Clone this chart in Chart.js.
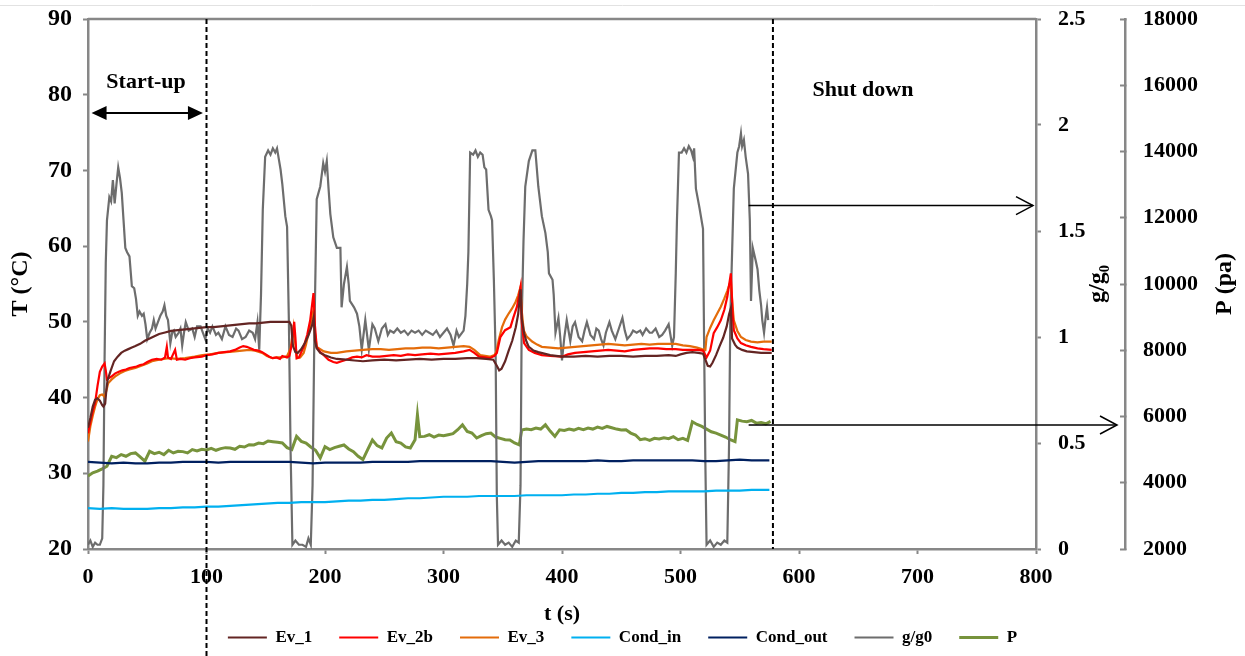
<!DOCTYPE html>
<html>
<head>
<meta charset="utf-8">
<script src="https://cdn.jsdelivr.net/npm/chart.js@4.4.0/dist/chart.umd.min.js"></script>
<style>
  html, body { margin: 0; padding: 0; background: #fff; }
  canvas { display: block; }
</style>
</head>
<body>
<canvas id="myChart" width="1245" height="656"></canvas>
<script>
// 시간 (s) 과 값 - 그림에서 읽은 값
const ev1Time = [0,2,4,6,8,10,12,13,14.5,15.5,16.5,19,22,25,28,31,34,37,40,44,48,52,56,60,65,70,76,82,88,94,100,106,112,118,124,130,136,142,148,154,160,166,170,171.5,173,175,177,180,183,186,189,190.5,191.5,193,196,200,205,210,218,225,232,240,250,260,270,280,290,300,310,320,328,336,342,345,347,349,352,355,358,361,363,365,366,368,370,372,376,380,385,390,395,400,410,420,430,440,450,460,470,480,490,496,500,505,510,515,519,521,523,525,527,530,533,536,539,541,542.5,543.5,546,548,552,556,562,568,574,577];
const ev1Temp = [36.0,37.3,38.8,39.7,39.9,39.6,39.0,38.8,39.2,41.0,42.3,43.5,44.8,45.4,45.9,46.2,46.4,46.6,46.8,47.1,47.5,47.8,48.1,48.4,48.6,48.8,48.9,49.0,49.1,49.2,49.3,49.3,49.4,49.5,49.6,49.7,49.8,49.8,49.9,50.0,50.0,50.0,50.0,49.5,46.8,46.0,45.9,46.4,47.2,48.2,49.5,50.6,47.5,46.5,45.9,45.6,45.3,45.1,45.0,44.9,44.8,44.9,45.0,44.9,45.0,45.1,45.0,45.1,45.1,45.2,45.2,45.1,45.0,44.2,43.6,43.8,44.8,46.2,47.5,49.3,51.0,54.3,50.5,48.5,47.4,46.7,46.2,46.0,45.8,45.6,45.5,45.4,45.4,45.5,45.4,45.5,45.5,45.4,45.5,45.5,45.6,45.5,45.7,45.9,46.0,45.9,45.8,45.0,44.2,44.1,44.6,45.6,46.8,47.9,49.4,51.0,51.8,47.8,47.0,46.6,46.3,46.1,46.0,45.9,45.9,45.9];

const ev2bTime = [0,2,4,6,8,10,12,14,15,16,18,20,23,26,29,32,35,38,41,44,47,50,54,58,62,65,66.5,67.5,70,73.5,75,78,82,86,90,96,100,105,110,115,120,124,128,131,134,137,140,144,147,150,153,156,159,162,164,166,168,170,172,174,175,176,178,180,182,185,187.5,190.3,191.5,193,196,199,203,207,210,214,218,223,227,231,235,240,246,252,258,264,270,276,282,289,296,303,310,317,322,326,330,335,339,343,345,348,352,356.5,359,362,365,366,368,372,377,383,390,400,405,411,418,425,432,439,446,453,460,467,474,481,488,496,502,508,514,519,522,525,528,531,534,537,539.5,542.5,544,545,548,551,555,559.5,565,570,577];
const ev2bTemp = [35.3,36.8,38.2,39.3,41.5,43.4,44.1,44.5,43.6,42.4,42.6,42.8,43.2,43.4,43.6,43.7,43.9,44.0,44.1,44.3,44.4,44.7,45.0,45.1,45.0,45.3,46.7,45.3,45.1,46.3,45.0,45.1,45.0,45.2,45.3,45.4,45.6,45.7,45.9,46.0,46.1,46.3,46.6,46.8,46.7,46.5,46.3,46.2,46.0,45.7,45.4,45.2,45.3,45.1,45.5,45.4,45.3,45.5,47.0,50.0,48.0,45.2,45.3,46.0,46.7,48.3,50.2,53.8,49.5,46.7,46.0,45.6,45.0,44.7,44.6,44.8,45.0,45.3,45.4,45.3,45.6,45.4,45.4,45.5,45.6,45.5,45.7,45.6,45.7,45.8,45.7,45.8,45.9,46.1,46.3,45.9,45.4,45.3,45.2,45.5,45.9,48.0,48.9,49.3,50.6,52.0,54.6,50.0,47.2,46.3,45.9,45.6,45.5,45.4,45.7,45.9,46.0,46.1,46.2,46.3,46.2,46.1,46.3,46.4,46.5,46.5,46.4,46.4,46.3,46.3,46.3,46.2,45.3,46.2,48.5,49.3,50.2,51.6,53.3,56.4,51.0,48.9,47.8,47.2,46.9,46.7,46.5,46.4,46.3];

const ev3Time = [0,2,4,6,8,10,12,14,15.5,17,20,23,27,31,35,40,45,50,54,60,68,75,82,90,96.5,103,110,117,124,130,136,141,147,151,155.6,160,164,168,171,173.5,175,176.5,179,182,184,186,188,190.3,191.5,193,199,205,210,218,225,232,240,247,254,261,268,275,282,289,296,303,310,317,322,326,331,335,339,343,344.5,346.6,349.4,352,355,358,360.7,363,365,366,367.7,370,374.8,379,383,390,397,404,411,418,425,432,439,446,453,460,467,474,481,488,496,502,508,514,518,521,522,525,528,531,534,537,539.5,542.5,544,545,548,551,555,559.5,565,570,577];
const ev3Temp = [34.2,36.2,37.6,38.8,39.8,40.3,40.4,40.1,40.9,41.9,42.4,42.8,43.2,43.5,43.7,43.9,44.2,44.5,44.8,45.0,45.2,45.1,45.2,45.4,45.6,45.7,45.9,46.0,46.1,46.2,46.3,46.2,45.9,45.5,45.2,45.3,45.3,45.5,46.5,49.3,47.0,45.2,45.3,45.9,47.0,48.5,49.8,51.6,48.5,46.7,46.1,45.9,45.9,46.1,46.2,46.3,46.4,46.4,46.3,46.4,46.5,46.5,46.6,46.6,46.5,46.6,46.7,46.8,46.7,46.3,45.6,45.5,45.4,45.6,46.0,47.6,49.3,50.3,51.1,51.8,52.6,53.5,54.6,51.5,48.9,48.1,47.4,47.0,46.7,46.6,46.5,46.6,46.7,46.8,46.9,47.0,47.1,47.0,46.9,47.0,47.1,47.0,47.1,47.1,47.1,46.9,46.8,46.6,46.4,46.3,48.0,49.2,50.2,51.1,52.0,53.1,54.1,55.5,52.0,50.2,48.8,48.0,47.6,47.4,47.3,47.4,47.4];

const condTime = [0,10,20,30,40,50,60,70,80,90,100,110,120,130,140,150,160,170,180,190,200,210,220,230,240,250,260,270,280,290,300,310,320,330,340,350,360,370,380,390,400,410,420,430,440,450,460,470,480,490,500,510,520,530,540,550,560,570,575];
const condIn = [25.4,25.3,25.4,25.3,25.3,25.3,25.4,25.4,25.5,25.5,25.6,25.6,25.7,25.8,25.9,26.0,26.1,26.1,26.2,26.2,26.2,26.3,26.4,26.4,26.5,26.5,26.6,26.7,26.7,26.8,26.9,26.9,26.9,27.0,27.0,27.0,27.0,27.1,27.1,27.1,27.1,27.2,27.2,27.3,27.3,27.4,27.4,27.5,27.5,27.6,27.6,27.6,27.6,27.7,27.7,27.7,27.8,27.8,27.8];
const condOut = [31.5,31.4,31.3,31.4,31.3,31.3,31.4,31.4,31.5,31.5,31.5,31.4,31.5,31.5,31.5,31.5,31.5,31.5,31.4,31.3,31.4,31.4,31.4,31.4,31.5,31.5,31.5,31.5,31.6,31.6,31.6,31.6,31.6,31.6,31.6,31.5,31.4,31.5,31.6,31.6,31.6,31.6,31.6,31.7,31.6,31.6,31.7,31.7,31.7,31.7,31.7,31.7,31.6,31.6,31.7,31.8,31.7,31.7,31.7];

const gTime = [0,2,4,6,8,10,12,13,14,15,16,18,19.5,21,22.5,24,25.5,27,28.5,30,31.5,33,35,37,39,40.5,42,43.5,45.5,47,48.5,50,52,54,55.5,57,59,61,63,64.5,66,67.5,69.5,71,72.5,74,76.5,78,79.5,81,82.5,85,88,90,92,95,97,99,101,103,105,108,110,113,116,119,122,125,127,130,133,136,139,141,143,144.5,146,147.5,149.5,152,154,156,158,159.5,161,162.5,164,166.5,168,169.5,171,172.5,175,178,181,184,186,188,189.5,191,193,196,198.5,200,201.5,203,204.5,207,210,213,214,216,218.5,220,221,224.5,227,229,231,234,237,240,242,245,248,251,253,255,258,261,264,267,270,273,276,279,282,285,288,291,294,297,300,303,306,308.5,311,313,317,318.5,320,321,322.5,325,327,329,331,333,334.5,336,338,340,341,342.5,344,345,346,349,352,355,358,361,363.5,365,366,367.5,369,372,375,377.5,380,383,386,388,389,392,393,394.5,397,398.5,400,402,404,407,409,411,414,417,419,421,424,427,429,431,433,435,437,440,442,445,448,451,453,455,458,460,463,466,468,471,474,476,479,482,484.5,487,490,493,494.5,496,497,498.7,501,503,505,507,509,510.5,511.5,513,516,519,520,521,522,525,528,531,534,537,539.5,541,542,545,548,549.5,551,552,553.5,555,557,558.5,559.5,561,563.5,565,566.5,568,569,570.5,572,573,574];
const gRatio = [0.02,0.04,0.01,0.03,0.02,0.02,0.05,0.3,0.9,1.35,1.55,1.66,1.64,1.74,1.63,1.72,1.80,1.75,1.68,1.55,1.42,1.40,1.38,1.24,1.23,1.18,1.10,1.12,1.10,1.11,1.06,0.99,1.02,1.04,1.08,1.04,1.07,1.10,1.12,1.15,1.10,1.08,0.97,1.02,1.03,1.00,1.02,1.04,0.96,1.02,1.07,1.03,1.04,1.00,1.05,1.05,1.02,0.99,1.04,1.02,1.05,1.01,1.02,0.99,1.05,1.01,1.00,1.04,1.03,0.99,1.00,1.03,1.02,0.99,1.07,0.94,1.20,1.60,1.85,1.88,1.86,1.89,1.87,1.89,1.84,1.79,1.72,1.57,1.52,1.08,0.45,0.02,0.04,0.02,0.02,0.01,0.05,0.02,0.3,1.0,1.65,1.71,1.82,1.78,1.83,1.70,1.58,1.47,1.42,1.42,1.14,1.25,1.33,1.25,1.17,1.14,1.11,1.05,0.94,1.08,0.94,1.06,1.04,0.98,1.04,1.06,1.01,1.03,1.02,1.04,1.02,1.03,1.01,1.03,1.02,1.03,1.01,1.03,1.02,1.01,1.03,1.00,1.02,1.04,1.01,0.96,1.03,1.00,1.03,1.10,1.25,1.40,1.87,1.86,1.88,1.85,1.87,1.86,1.80,1.79,1.60,1.57,1.55,1.27,0.92,0.25,0.02,0.04,0.02,0.03,0.01,0.04,0.03,0.3,1.08,1.45,1.71,1.83,1.88,1.88,1.71,1.57,1.49,1.40,1.30,1.27,1.20,1.02,1.09,1.00,0.89,1.00,1.08,0.98,1.05,1.07,1.00,0.98,1.03,1.07,1.01,0.99,1.04,1.03,0.99,0.96,1.02,1.07,1.03,0.99,1.04,1.09,1.03,0.99,1.01,1.03,1.02,1.03,1.01,1.04,1.02,1.02,1.04,1.00,1.01,1.03,1.06,0.96,1.00,1.30,1.55,1.87,1.87,1.89,1.87,1.90,1.88,1.85,1.89,1.70,1.61,1.51,0.93,0.40,0.02,0.04,0.01,0.03,0.02,0.04,0.03,0.5,1.08,1.70,1.87,1.90,1.96,1.90,1.93,1.85,1.77,1.55,1.17,1.42,1.36,1.32,1.22,1.15,1.08,1.02,1.10,1.14,1.08];

const pTime = [0,4,8,12,16,20,24,28,32,36,40,44,48,52,56,60,64,68,72,76,80,84,88,92,96,100,104,108,112,116,120,124,128,132,136,140,144,148,152,156,160,164,168,172,176,180,184,188,192,196,200,204,208,212,216,220,224,228,232,236,240,244,248,252,256,260,264,268,272,276,278,280,284,288,292,296,300,304,308,312,316,320,324,328,332,336,340,344,348,352,356,360,364,366,370,374,378,382,386,390,394,398,402,406,410,414,418,422,426,430,434,438,442,446,450,454,458,462,466,470,474,478,482,486,490,494,498,502,506,510,514,518,522,526,530,534,538,542,546,548,552,556,560,564,568,572,576];
const pVal = [4200,4300,4350,4420,4500,4800,4760,4850,4800,4880,4900,4780,4650,4950,4880,4920,4850,4980,4900,4950,4940,4900,5000,4960,5010,4990,5040,4980,5030,5060,5050,5010,5100,5080,5150,5140,5200,5180,5260,5240,5220,5200,5060,5000,5400,5250,5200,5080,4980,4750,5090,5000,5060,5100,5140,5020,4940,4800,4700,5000,5290,5120,5050,5350,5500,5240,5200,5080,5050,5300,6050,5390,5400,5450,5380,5440,5420,5450,5480,5600,5750,5550,5500,5350,5420,5480,5500,5380,5340,5300,5290,5200,5140,5590,5620,5600,5650,5620,5750,5560,5400,5600,5580,5620,5590,5640,5600,5650,5620,5680,5640,5700,5660,5620,5590,5600,5500,5440,5300,5330,5280,5340,5320,5360,5330,5390,5300,5340,5280,5840,5760,5700,5620,5540,5500,5440,5380,5300,5240,5900,5860,5840,5880,5800,5820,5780,5850];

// 표시선 위치
const startupEnd = 100;
const shutdownAt = 578;

const serif = '"Liberation Serif", "Times New Roman", serif';
const axisGray = '#878787';

function pts(ts, vs) {
	return ts.map((t, i) => ({ x: t, y: vs[i] }));
}

function line(ctx, x1, y1, x2, y2) {
	ctx.beginPath();
	ctx.moveTo(x1, y1);
	ctx.lineTo(x2, y2);
	ctx.stroke();
}

// 속이 찬 화살촉
function solidHead(ctx, x, y, dir) {
	ctx.beginPath();
	ctx.moveTo(x, y);
	ctx.lineTo(x - dir * 15, y - 7);
	ctx.lineTo(x - dir * 15, y + 7);
	ctx.closePath();
	ctx.fill();
}

// 열린 화살촉 (V 모양)
function openHead(ctx, x, y) {
	ctx.beginPath();
	ctx.moveTo(x - 17, y - 9);
	ctx.lineTo(x, y);
	ctx.lineTo(x - 17, y + 9);
	ctx.stroke();
}

const annotations = {
	id: 'annotations',
	afterDraw(chart) {
		const { ctx, chartArea: ca } = chart;
		const { x, y, g, p } = chart.scales;
		ctx.save();

		// 스크린샷 위쪽의 옅은 선
		ctx.strokeStyle = '#e2e2e2';
		ctx.lineWidth = 1;
		line(ctx, 0, 5.5, chart.width, 5.5);

		// 그래프 위쪽 테두리
		ctx.strokeStyle = axisGray;
		ctx.lineWidth = 2.5;
		line(ctx, ca.left, ca.top, ca.right, ca.top);

		// 점선
		ctx.strokeStyle = '#000';
		ctx.lineWidth = 2;
		ctx.setLineDash([5, 3]);
		const xs = x.getPixelForValue(startupEnd);
		line(ctx, xs, ca.top, xs, chart.height);
		const xd = x.getPixelForValue(shutdownAt);
		line(ctx, xd, ca.top, xd, ca.bottom);
		ctx.setLineDash([]);

		// Start-up 양방향 화살표
		ctx.fillStyle = '#000';
		ctx.lineWidth = 2;
		const ay = y.getPixelForValue(77.6);
		const ax1 = x.getPixelForValue(3);
		const ax2 = x.getPixelForValue(97);
		line(ctx, ax1 + 10, ay, ax2 - 10, ay);
		solidHead(ctx, ax1, ay, -1);
		solidHead(ctx, ax2, ay, 1);

		ctx.font = 'bold 22px ' + serif;
		ctx.textAlign = 'center';
		ctx.textBaseline = 'middle';
		ctx.fillText('Start-up', x.getPixelForValue(49), y.getPixelForValue(81.6));
		ctx.fillText('Shut down', x.getPixelForValue(654), y.getPixelForValue(80.6));

		// 오른쪽 축을 가리키는 화살표
		ctx.lineWidth = 1.5;
		const sx = x.getPixelForValue(557.5);
		const gy = g.getPixelForValue(1.62);
		line(ctx, sx, gy, g.left - 3, gy);
		openHead(ctx, g.left - 3, gy);
		const py = p.getPixelForValue(5744);
		line(ctx, sx, py, p.left - 8, py);
		openHead(ctx, p.left - 8, py);

		// 오른쪽 축 제목 (아래에서 위로)
		const mid = (ca.top + ca.bottom) / 2;
		ctx.save();
		ctx.translate(g.left + 62, mid);
		ctx.rotate(-Math.PI / 2);
		ctx.font = 'bold 24px ' + serif;
		ctx.fillText('g/g\u2080', 0, 0);
		ctx.restore();
		ctx.save();
		ctx.translate(p.left + 100, mid);
		ctx.rotate(-Math.PI / 2);
		ctx.font = 'bold 24px ' + serif;
		ctx.fillText('P (pa)', 0, 0);
		ctx.restore();

		ctx.restore();
	},
};

function series(label, ts, vs, color, axis, width) {
	return {
		label: label,
		data: pts(ts, vs),
		borderColor: color,
		backgroundColor: color,
		borderWidth: width,
		pointRadius: 0,
		tension: 0,
		yAxisID: axis,
	};
}

// 축 크기를 고정하고 라벨용 여백을 없앤다
function fixWidth(w) {
	return (s) => {
		s.width = w;
		s.paddingTop = 0;
		s.paddingBottom = 0;
	};
}

const tickFont = { family: serif, size: 22, weight: 'bold' };

var chartArea = document.getElementById('myChart').getContext('2d');
var myChart = new Chart(chartArea, {
	type: 'line',
	data: {
		datasets: [
			series('Ev_1', ev1Time, ev1Temp, '#632523', 'y', 2.2),
			series('Ev_2b', ev2bTime, ev2bTemp, '#ff0000', 'y', 2.2),
			series('Ev_3', ev3Time, ev3Temp, '#e46c0a', 'y', 2.2),
			series('Cond_in', condTime, condIn, '#00b0f0', 'y', 2.2),
			series('Cond_out', condTime, condOut, '#002060', 'y', 2.2),
			series('g/g0', gTime, gRatio, '#6d6d6d', 'g', 2.2),
			series('P', pTime, pVal, '#77933c', 'p', 3),
		],
	},
	options: {
		responsive: false,
		animation: false,
		layout: { padding: { top: 19, bottom: 0, left: 0, right: 0 } },
		plugins: {
			legend: {
				position: 'bottom',
				labels: {
					usePointStyle: true,
					pointStyle: 'line',
					pointStyleWidth: 39,
					padding: 27,
					color: '#000',
					font: { family: serif, size: 17, weight: 'bold' },
				},
			},
			tooltip: { enabled: false },
		},
		scales: {
			x: {
				type: 'linear',
				position: 'bottom',
				min: 0,
				max: 800,
				ticks: { stepSize: 100, color: '#000', font: tickFont, padding: 10, maxRotation: 0 },
				grid: { drawOnChartArea: false, tickLength: 5, color: axisGray, tickWidth: 2 },
				border: { color: axisGray, width: 2.5 },
				title: {
					display: true,
					text: 't (s)',
					color: '#000',
					font: { family: serif, size: 22, weight: 'bold' },
					padding: { top: 0, bottom: -26 },
				},
				afterFit: (s) => { s.height = 53; },
			},
			y: {
				position: 'left',
				min: 20,
				max: 90,
				ticks: { stepSize: 10, color: '#000', font: { family: serif, size: 24, weight: 'bold' }, padding: 11 },
				grid: { drawOnChartArea: false, tickLength: 5, color: axisGray, tickWidth: 2 },
				border: { color: axisGray, width: 2.5 },
				title: {
					display: true,
					text: 'T (°C)',
					color: '#000',
					font: { family: serif, size: 24, weight: 'bold' },
					padding: { top: 6, bottom: 0 },
				},
				afterFit: fixWidth(88),
			},
			g: {
				position: 'right',
				min: 0,
				max: 2.5,
				ticks: { stepSize: 0.5, color: '#000', font: tickFont, padding: 17, callback: (v) => String(v) },
				grid: { drawOnChartArea: false, tickLength: 5, color: axisGray, tickWidth: 2 },
				border: { color: axisGray, width: 2.5 },
				afterFit: fixWidth(89),
			},
			p: {
				position: 'right',
				min: 2000,
				max: 18000,
				ticks: {
					stepSize: 2000,
					color: '#000',
					font: tickFont,
					padding: 23,
					callback: (v) => String(v),
				},
				grid: { drawOnChartArea: false, tickLength: -5, color: axisGray, tickWidth: 2 },
				border: { color: axisGray, width: 2.5 },
				afterFit: fixWidth(120),
			},
		},
	},
	plugins: [annotations],
});
</script>
</body>
</html>
